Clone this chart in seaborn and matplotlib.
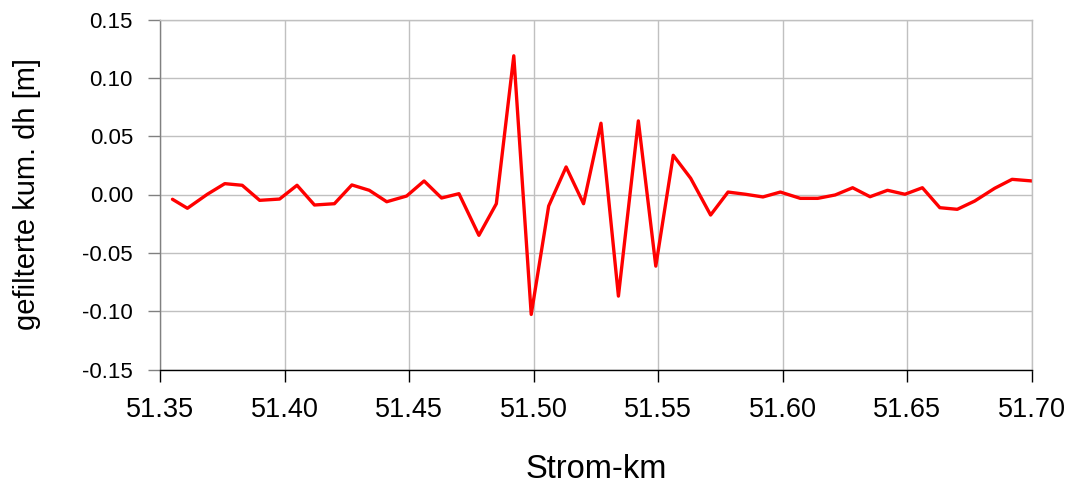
import matplotlib
matplotlib.use("Agg")
import matplotlib.pyplot as plt
import seaborn as sns
import pandas as pd

# Stream kilometre positions and filtered cumulative height differences
strom_km = [
    51.355, 51.361, 51.369, 51.376, 51.383, 51.390, 51.398, 51.405, 51.412,
    51.420, 51.427, 51.434, 51.441, 51.449, 51.456, 51.463, 51.470, 51.478,
    51.485, 51.492, 51.499, 51.506, 51.513, 51.520, 51.527, 51.534, 51.542,
    51.549, 51.556, 51.563, 51.571, 51.578, 51.585, 51.592, 51.599, 51.607,
    51.614, 51.621, 51.628, 51.635, 51.642, 51.649, 51.656, 51.663, 51.670,
    51.677, 51.685, 51.692, 51.700,
]
dh_filtered = [
    -0.0041, -0.0118, 0.0002, 0.0093, 0.0079, -0.0050, -0.0039, 0.0079, -0.0090,
    -0.0079, 0.0082, 0.0036, -0.0062, -0.0013, 0.0116, -0.0030, 0.0007, -0.0350,
    -0.0079, 0.1189, -0.1028, -0.0099, 0.0236, -0.0079, 0.0611, -0.0871, 0.0631,
    -0.0614, 0.0336, 0.0139, -0.0176, 0.0021, 0.0002, -0.0021, 0.0021, -0.0033,
    -0.0033, -0.0004, 0.0058, -0.0019, 0.0036, 0.0002, 0.0058, -0.0113, -0.0127,
    -0.0056, 0.0053, 0.0130, 0.0116,
]
x_ticks = [51.35, 51.40, 51.45, 51.50, 51.55, 51.60, 51.65, 51.70]
y_ticks = [-0.15, -0.10, -0.05, 0.00, 0.05, 0.10, 0.15]

df = pd.DataFrame({"km": strom_km, "dh": dh_filtered})

sns.set_theme(style="white")
plt.rcParams["font.family"] = ["Liberation Sans", "DejaVu Sans"]

fig = plt.figure(figsize=(10.72, 4.88), dpi=100)
ax = fig.add_axes([160 / 1072, 1 - 369.5 / 488, 872 / 1072, 350 / 488])

sns.lineplot(data=df, x="km", y="dh", ax=ax, color="#ff0000", linewidth=2.4,
             sort=False, estimator=None)

ax.set_xlim(51.35, 51.70)
ax.set_ylim(-0.15, 0.15)
ax.set_xticks(x_ticks)
ax.set_yticks(y_ticks)
ax.set_xticklabels([f"{v:.2f}" for v in x_ticks], fontsize=19.5)
ax.set_yticklabels([f"{v:.2f}" for v in y_ticks], fontsize=16)

ax.grid(True, color="#c0c0c0", linewidth=1.0)
ax.set_axisbelow(True)

for side in ("top", "right"):
    ax.spines[side].set_color("#c0c0c0")
    ax.spines[side].set_linewidth(1.0)
ax.spines["left"].set_color("#808080")
ax.spines["left"].set_linewidth(1.0)
ax.spines["bottom"].set_color("black")
ax.spines["bottom"].set_linewidth(1.0)

ax.tick_params(axis="y", direction="out", length=8.5, width=1.0, color="#808080",
               left=True, pad=11, labelcolor="black")
ax.tick_params(axis="x", direction="out", length=8.5, width=1.0, color="black",
               bottom=True, pad=11, labelcolor="black")

ax.set_xlabel("Strom-km", fontsize=23.5, color="black")
ax.set_ylabel("gefilterte kum. dh [m]", fontsize=21, color="black")
ax.xaxis.set_label_coords(0.5, -0.24)
ax.yaxis.set_label_coords(-0.137, 0.5)

fig.savefig("out.png", dpi=100, facecolor="white")
